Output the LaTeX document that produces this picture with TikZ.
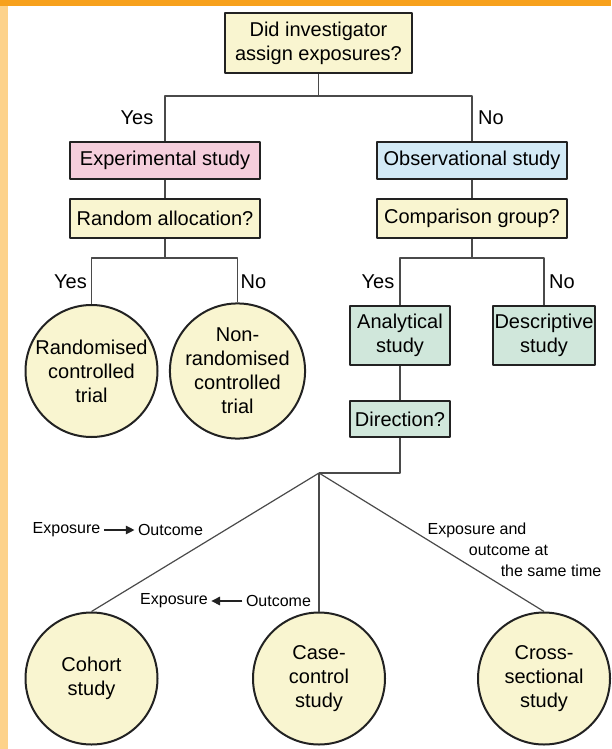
\documentclass[tikz,border=0pt]{standalone}
\usepackage{fontspec}
\setmainfont{Liberation Sans}
\usetikzlibrary{arrows.meta}
\definecolor{framebar}{HTML}{F7A11D}
\definecolor{framepale}{HTML}{FDD28A}
\definecolor{questionfill}{HTML}{F9F5D0}
\definecolor{experimentfill}{HTML}{F5CEDC}
\definecolor{observefill}{HTML}{D3EAF6}
\definecolor{analysefill}{HTML}{D0E7DB}
\definecolor{designedge}{HTML}{222222}
\definecolor{branchline}{HTML}{4A4A4A}

\begin{document}
\begin{tikzpicture}[
  x=0.75pt,
  y=-0.75pt,
  line join=round,
  box/.style={draw=designedge,line width=1.5pt,align=center,inner sep=1pt,font=\fontsize{15}{18}\selectfont},
  question/.style={box,fill=questionfill},
  design/.style={circle,draw=designedge,line width=1.5pt,fill=questionfill,minimum size=99pt,inner sep=0pt,align=center,font=\fontsize{15}{18}\selectfont},
  branch/.style={draw=branchline,line width=0.9pt},
  answer/.style={font=\fontsize{15}{18}\selectfont,inner sep=0pt},
  remark/.style={font=\fontsize{12}{15}\selectfont,inner sep=0pt},
  flow/.style={draw=designedge,line width=0.8pt,shorten <=2.5pt,shorten >=2.5pt,-{Triangle[length=6.5pt,width=6.5pt]}}
]
  \useasboundingbox (0,0) rectangle (611,749);

  % Orange page frame on top and left.
  \fill[framebar] (0,0) rectangle (611,6);
  \fill[framepale] (0,6) rectangle (8,749);

  % Question boxes and study types.
  \node[question,minimum width=140.25pt,minimum height=45pt] (assign) at (318.5,43) {Did investigator\\assign exposures?};
  \node[box,fill=experimentfill,minimum width=142.5pt,minimum height=27.75pt] (experimental) at (165,160.5) {Experimental study};
  \node[box,fill=observefill,minimum width=142.5pt,minimum height=27.75pt] (observational) at (472,160.5) {Observational study};
  \node[question,minimum width=142.5pt,minimum height=29.25pt] (random) at (165,218.5) {Random allocation?};
  \node[question,minimum width=142.5pt,minimum height=29.25pt] (comparison) at (472,218.5) {Comparison group?};
  \node[box,fill=analysefill,minimum width=75pt,minimum height=44.25pt] (analytical) at (400,335.5) {Analytical\\study};
  \node[box,fill=analysefill,minimum width=75pt,minimum height=44.25pt] (descriptive) at (544,335.5) {Descriptive\\study};
  \node[box,fill=analysefill,minimum width=75pt,minimum height=27pt] (direction) at (400,419) {Direction?};

  % Final designs.
  \node[design] (rct) at (91.5,371) {Randomised\\controlled\\trial};
  \node[design] (nrct) at (237.5,371) {Non-\\randomised\\controlled\\trial};
  \node[design] (cohort) at (91.5,678.5) {Cohort\\study};
  \node[design] (casecontrol) at (319,678.5) {Case-\\control\\study};
  \node[design] (crosssection) at (544,678.5) {Cross-\\sectional\\study};

  % Branch points.
  \coordinate (fork) at (318.5,96);
  \coordinate (randomfork) at (165,258);
  \coordinate (compfork) at (472,258);
  \coordinate (hub) at (319,473);

  \draw[branch] (assign) -- (fork);
  \draw[branch] (experimental.north) |- (fork) -| (observational.north);
  \draw[branch] (experimental) -- (random);
  \draw[branch] (observational) -- (comparison);
  \draw[branch] (random) -- (randomfork);
  \draw[branch] (rct.north) |- (randomfork) -| (nrct.north);
  \draw[branch] (comparison) -- (compfork);
  \draw[branch] (analytical.north) |- (compfork) -| (descriptive.north);
  \draw[branch] (analytical) -- (direction);
  \draw[branch] (direction.south) |- (hub);
  \foreach \p in {cohort,casecontrol,crosssection} {
    \draw[branch] (hub) -- (\p.north);
  }

  % Yes and no answers.
  \node[answer] (yesexp) at (137,118) {Yes};
  \node[answer] (noobs) at (491,118) {No};
  \node[answer] (yesrct) at (70.5,282) {Yes};
  \node[answer] (nonrct) at (253.5,282) {No};
  \node[answer] (yesana) at (378,282) {Yes};
  \node[answer] (nodsc) at (562,282) {No};

  % Direction of enquiry.
  \node[remark] (cohortexp) at (66.5,530) {Exposure};
  \node[remark] (cohortout) at (170.5,530) {Outcome};
  \draw[flow] (cohortexp) -- (cohortout);
  \node[remark] (caseexp) at (174,601) {Exposure};
  \node[remark] (caseout) at (278.5,601) {Outcome};
  \draw[flow] (caseout) -- (caseexp);
  \node[remark] (sameone) at (477,530) {Exposure and};
  \node[remark] (sametwo) at (508.5,550) {outcome at};
  \node[remark] (samethree) at (551,571) {the same time};
\end{tikzpicture}
\end{document}
